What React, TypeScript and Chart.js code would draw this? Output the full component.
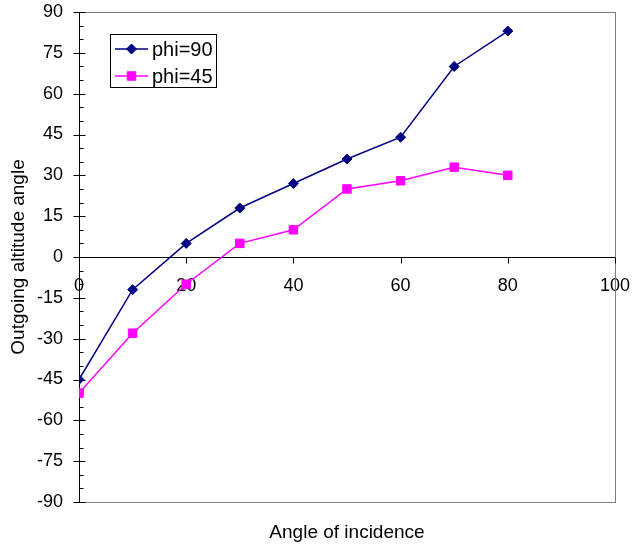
import React, { useEffect, useRef } from "react";
import { Chart, registerables } from "chart.js";
import { drawPoint } from "chart.js/helpers";

Chart.register(...registerables);

const incidence = [0, 10, 20, 30, 40, 50, 60, 70, 80];
const phi90 = [-45, -12, 5, 18, 27, 36, 44, 70, 83];
const phi45 = [-50, -28, -10, 5, 10, 25, 28, 33, 30];
const seriesNames = ["phi=90", "phi=45"];
const xTitle = "Angle of incidence";
const yTitle = "Outgoing altitude angle";

const FONT = "'Liberation Sans', Arial, sans-serif";
const NAVY = "#000080";
const MAGENTA = "#FF00FF";

const zeroPad = (s: any) => {
  s.paddingTop = 0;
  s.paddingBottom = 0;
  s.paddingLeft = 0;
  s.paddingRight = 0;
};

const framePlugin = {
  id: "frame",
  beforeDatasetsDraw(chart: any) {
    const { ctx, chartArea: a, scales } = chart;
    const ys = scales.y;
    const xs = scales.x;
    ctx.save();
    ctx.strokeStyle = "#808080";
    ctx.lineWidth = 1;
    ctx.strokeRect(Math.round(a.left) + 0.5, Math.round(a.top) + 0.5, Math.round(a.right - a.left), Math.round(a.bottom - a.top));
    ctx.strokeStyle = "#000000";
    const ax = Math.round(a.left) + 0.5;
    ctx.beginPath();
    ctx.moveTo(ax, a.top);
    ctx.lineTo(ax, a.bottom + 1);
    for (let v = -90; v <= 90; v += 5) {
      const py = Math.round(ys.getPixelForValue(v)) + 0.5;
      if (v % 15 === 0) {
        ctx.moveTo(ax - 6, py);
        ctx.lineTo(ax + 6, py);
      } else {
        ctx.moveTo(ax, py);
        ctx.lineTo(ax + 4, py);
      }
    }
    const y0 = Math.round(ys.getPixelForValue(0)) + 0.5;
    ctx.moveTo(a.left, y0);
    ctx.lineTo(a.right, y0);
    for (let v = 0; v <= 100; v += 20) {
      const px = Math.round(xs.getPixelForValue(v)) + 0.5;
      ctx.moveTo(px, y0);
      ctx.lineTo(px, y0 + 6);
    }
    ctx.stroke();
    ctx.restore();
  },
  afterDatasetsDraw(chart: any) {
    const { ctx, chartArea: a } = chart;
    ctx.save();
    const bx = a.left + 31;
    const by = a.top + 22;
    const bw = 106;
    const bh = 53;
    ctx.fillStyle = "#ffffff";
    ctx.fillRect(bx, by, bw, bh);
    ctx.strokeStyle = "#000000";
    ctx.lineWidth = 1;
    ctx.strokeRect(Math.round(bx) + 0.5, Math.round(by) + 0.5, bw, bh);
    ctx.font = `20px ${FONT}`;
    ctx.textBaseline = "middle";
    ctx.textAlign = "left";
    chart.data.datasets.forEach((ds: any, i: number) => {
      const ry = by + 15 + i * 27;
      const meta = chart.getDatasetMeta(i);
      ctx.strokeStyle = ds.borderColor;
      ctx.lineWidth = 1.5;
      ctx.beginPath();
      ctx.moveTo(bx + 5, ry);
      ctx.lineTo(bx + 38, ry);
      ctx.stroke();
      const el = meta.data[0];
      if (el) {
        const o = el.options;
        ctx.fillStyle = o.backgroundColor;
        ctx.strokeStyle = o.borderColor;
        ctx.lineWidth = o.borderWidth;
        drawPoint(ctx, { pointStyle: o.pointStyle, radius: o.radius, rotation: 0, borderWidth: o.borderWidth } as any, bx + 21.5, ry);
      }
      ctx.fillStyle = "#000000";
      ctx.fillText(ds.label, bx + 42, ry + 1);
    });
    ctx.restore();
  },
};

export default function App() {
  const ref = useRef<HTMLCanvasElement | null>(null);
  useEffect(() => {
    document.body.style.margin = "0";
    const mk = (xs: number[], ys: number[]) => xs.map((x, i) => ({ x, y: ys[i] }));
    const chart = new Chart(ref.current as HTMLCanvasElement, {
      type: "scatter",
      data: {
        datasets: [
          {
            label: seriesNames[0],
            data: mk(incidence, phi90),
            showLine: true,
            borderColor: NAVY,
            backgroundColor: NAVY,
            borderWidth: 1.5,
            pointStyle: "rectRot",
            pointRadius: 5,
            pointBorderWidth: 1,
          },
          {
            label: seriesNames[1],
            data: mk(incidence, phi45),
            showLine: true,
            borderColor: MAGENTA,
            backgroundColor: MAGENTA,
            borderWidth: 1.5,
            pointStyle: "rect",
            pointRadius: 6,
            pointBorderWidth: 1,
          },
        ],
      },
      options: {
        animation: false,
        responsive: false,
        maintainAspectRatio: false,
        layout: { padding: { left: 0, top: 12, right: 18, bottom: 0 } },
        plugins: { legend: { display: false }, tooltip: { enabled: false } },
        scales: {
          x: {
            type: "linear",
            position: { y: 0 } as any,
            min: 0,
            max: 100,
            grid: { display: false, drawTicks: false },
            border: { display: false },
            ticks: { stepSize: 20, padding: 18, color: "#000", font: { family: FONT, size: 18 }, maxRotation: 0 },
            afterFit: zeroPad,
          },
          x2: {
            type: "linear",
            position: "bottom",
            axis: "x",
            min: 0,
            max: 100,
            grid: { display: false, drawTicks: false },
            border: { display: false },
            ticks: { display: false },
            title: { display: true, text: xTitle, color: "#000", font: { family: FONT, size: 19 }, padding: { top: 0, bottom: 4 } },
            afterFit: (s: any) => { zeroPad(s); s.height = 46; },
          },
          y: {
            type: "linear",
            position: "left",
            min: -90,
            max: 90,
            grid: { display: false, drawTicks: false },
            border: { display: false },
            ticks: { stepSize: 15, padding: 16, color: "#000", font: { family: FONT, size: 18 } },
            title: { display: true, text: yTitle, color: "#000", font: { family: FONT, size: 19 }, padding: { top: 7, bottom: 0 } },
            afterFit: (s: any) => { zeroPad(s); s.width = 79; },
          },
        },
      },
      plugins: [framePlugin],
    });
    return () => chart.destroy();
  }, []);
  return (
    <div style={{ width: 633, height: 548 }}>
      <canvas ref={ref} width={633} height={548} style={{ display: "block" }} />
    </div>
  );
}
